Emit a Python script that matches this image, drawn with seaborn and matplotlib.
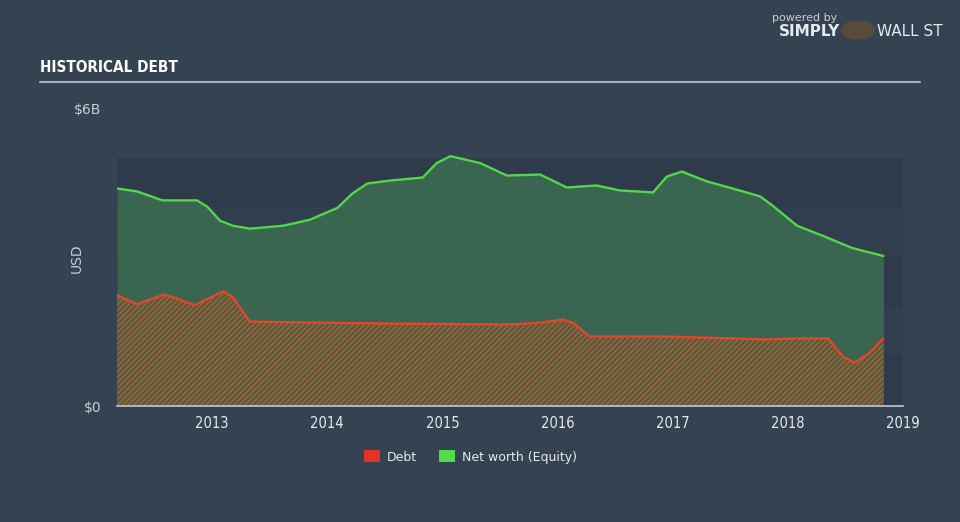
import matplotlib
matplotlib.use("Agg")
import matplotlib.pyplot as plt
import seaborn as sns
import pandas as pd
from matplotlib.patches import Patch

# ---- data (values in USD billions, x as fractional years) ----
equity_t = [2012.175, 2012.35, 2012.57, 2012.87, 2012.96, 2013.07, 2013.18, 2013.33,
            2013.62, 2013.85, 2014.09, 2014.22, 2014.35, 2014.55, 2014.83, 2014.95,
            2015.07, 2015.33, 2015.56, 2015.85, 2016.08, 2016.34, 2016.54, 2016.83,
            2016.95, 2017.08, 2017.30, 2017.52, 2017.76, 2017.87, 2018.08, 2018.30,
            2018.56, 2018.83]
equity_v = [4.38, 4.32, 4.14, 4.14, 4.01, 3.73, 3.63, 3.57,
            3.63, 3.75, 3.99, 4.28, 4.48, 4.54, 4.60, 4.89,
            5.03, 4.89, 4.64, 4.66, 4.40, 4.44, 4.34, 4.30,
            4.62, 4.72, 4.52, 4.38, 4.22, 4.03, 3.63, 3.43,
            3.18, 3.02]
debt_t = [2012.175, 2012.35, 2012.59, 2012.85, 2013.10, 2013.18, 2013.33, 2013.85,
          2014.55, 2015.61, 2015.85, 2016.05, 2016.13, 2016.28, 2016.89, 2017.82,
          2018.08, 2018.35, 2018.48, 2018.58, 2018.71, 2018.83]
debt_v = [2.23, 2.05, 2.25, 2.03, 2.31, 2.19, 1.70, 1.68,
          1.66, 1.64, 1.68, 1.74, 1.68, 1.40, 1.40, 1.34,
          1.36, 1.36, 0.99, 0.87, 1.07, 1.36]
year_ticks = [2013, 2014, 2015, 2016, 2017, 2018, 2019]
y_ticks = [0, 6]
y_labels = ["$0", "$6B"]
series_names = ["Debt", "Net worth (Equity)"]

BG = "#344252"
GREEN_LINE = "#52d64a"
RED_LINE = "#e2472b"
GREEN_FILL = "#3a6551"
TEXT = "#e6e9ec"

sns.set_theme(style="white")
plt.rcParams["font.family"] = ["DejaVu Sans"]
plt.rcParams["hatch.linewidth"] = 0.8
plt.rcParams["hatch.color"] = "#c45a35"

fig = plt.figure(figsize=(9.6, 5.22), dpi=100, facecolor=BG)
ax = fig.add_axes([117/960, 1-406/522, (903-117)/960, (406-108)/522])
ax.set_facecolor(BG)

# background bands 0..5B
band_cols = ["#2f3b4b", "#313e4e"]
for i in range(5):
    ax.axhspan(i, i+1, color=band_cols[i % 2], zorder=0, lw=0)

df_e = pd.DataFrame({"t": equity_t, "v": equity_v})
df_d = pd.DataFrame({"t": debt_t, "v": debt_v})

ax.fill_between(df_e.t, 0, df_e.v, color=GREEN_FILL, lw=0, zorder=1)
ax.fill_between(df_d.t, 0, df_d.v, facecolor="#52603f", hatch="//////",
                edgecolor="#c45a35", lw=0, zorder=2)
sns.lineplot(data=df_e, x="t", y="v", ax=ax, color=GREEN_LINE, lw=1.7, zorder=4,
             solid_joinstyle="round", solid_capstyle="round")
sns.lineplot(data=df_d, x="t", y="v", ax=ax, color=RED_LINE, lw=1.7, zorder=4,
             solid_joinstyle="round", solid_capstyle="round")

ax.set_xlim(2012.175, 2019.0)
ax.set_ylim(0, 6)
ax.set_xticks(year_ticks)
ax.set_xticklabels([str(y) for y in year_ticks], color=TEXT, fontsize=10.5,
                   fontstretch="condensed")
ax.set_yticks(y_ticks)
ax.set_yticklabels(y_labels, color="#c8ced4", fontsize=10)
ax.tick_params(axis="x", length=6, color="#c0c8d0", width=1, pad=1.5)
ax.tick_params(axis="y", length=0, pad=11)
ax.set_xlabel("")
ax.set_ylabel("USD", color="#c8ced4", fontsize=10)
ax.yaxis.set_label_coords(-0.042, 0.497)
for s in ["top", "right", "left"]:
    ax.spines[s].set_visible(False)
ax.spines["bottom"].set_color("#c0c8d0")
ax.spines["bottom"].set_linewidth(1.2)

# title and rule
fig.text(40/960, 1-68/522, "HISTORICAL DEBT", color="white", fontsize=11,
         fontweight="bold", fontstretch="condensed", va="center", ha="left")
fig.add_artist(plt.Line2D([40/960, 920/960], [1-82/522, 1-82/522],
                          color="#a7afb8", lw=1.5))

# legend
handles = [Patch(facecolor="#e8312a", edgecolor="none"),
           Patch(facecolor="#4fdc4a", edgecolor="none")]
leg = fig.legend(handles, series_names, loc="center", bbox_to_anchor=(0.49, 1-457/522),
                 ncol=2, frameon=False, fontsize=9, handlelength=1.3, handleheight=1.1,
                 columnspacing=1.8, handletextpad=0.5)
for t in leg.get_texts():
    t.set_color(TEXT)

# branding
fig.text(805/960, 1-18/522, "powered by", color="#c8ced4", fontsize=8, ha="center", va="center")
fig.text(810/960, 1-31/522, "SIMPLY", color="#e6e9ec", fontsize=11, fontweight="bold",
         ha="center", va="center")
fig.add_artist(plt.Circle((858/960, 1-30/522), 0.017, transform=fig.transFigure,
                          color="#5a4a3a"))
fig.text(910/960, 1-31/522, "WALL ST", color="#e6e9ec", fontsize=11, ha="center", va="center")

fig.savefig("out.png", dpi=100, facecolor=BG)
